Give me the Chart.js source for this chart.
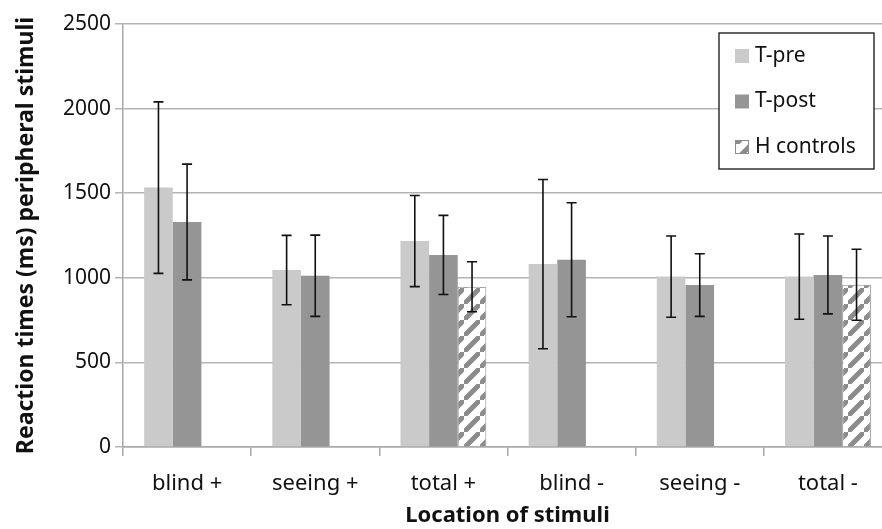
<!DOCTYPE html>
<html>
<head>
<meta charset="utf-8">
<script src="https://cdn.jsdelivr.net/npm/chart.js@4.4.0/dist/chart.umd.min.js"></script>
<style>
  html, body { margin: 0; padding: 0; background: #fff; overflow: hidden; }
  #wrap { width: 892px; height: 529px; }
</style>
</head>
<body>
<div id="wrap"><canvas id="rtChart" width="892" height="529"></canvas></div>
<script>
// data
var categories = ['blind +', 'seeing +', 'total +', 'blind -', 'seeing -', 'total -'];
var tPre      = [1533, 1046, 1217, 1081, 1007, 1007];
var tPost     = [1330, 1012, 1135, 1107,  957, 1017];
var hControls = [null, null,  947, null, null,  959];
var tPreErr      = [507, 205, 269, 500, 240, 252];
var tPostErr     = [342, 240, 234, 337, 185, 230];
var hControlsErr = [null, null, 148, null, null, 210];
var yTicks = [0, 500, 1000, 1500, 2000, 2500];

var fontFam = '"Noto Sans", sans-serif';

// diagonal stripe fill for the controls
function stripes() {
	var n = 16;
	var c = document.createElement('canvas');
	c.width = n; c.height = n;
	var g = c.getContext('2d');
	g.fillStyle = '#fff';
	g.fillRect(0, 0, n, n);
	g.strokeStyle = '#8c8c8c';
	g.lineWidth = 5;
	g.beginPath();
	g.moveTo(-2, n + 2); g.lineTo(n + 2, -2);
	g.moveTo(-n - 2, 2); g.lineTo(2, -n - 2);
	g.moveTo(n - 2, 2 * n + 2); g.lineTo(2 * n + 2, n - 2);
	g.stroke();
	return g.createPattern(c, 'repeat');
}

const ctx = document.getElementById('rtChart').getContext('2d');
const hatch = stripes();

const errorBars = {
	id: 'errorBars',
	afterDatasetsDraw: function(chart) {
		var c = chart.ctx;
		var y = chart.scales.y;
		c.save();
		c.strokeStyle = '#111';
		c.lineWidth = 1.6;
		chart.data.datasets.forEach(function(ds, i) {
			var meta = chart.getDatasetMeta(i);
			meta.data.forEach(function(bar, j) {
				var v = ds.data[j], e = ds.errors[j];
				if (v == null || e == null) return;
				var top = y.getPixelForValue(v + e);
				var bot = y.getPixelForValue(v - e);
				c.beginPath();
				c.moveTo(bar.x, top); c.lineTo(bar.x, bot);
				c.moveTo(bar.x - 5, top); c.lineTo(bar.x + 5, top);
				c.moveTo(bar.x - 5, bot); c.lineTo(bar.x + 5, bot);
				c.stroke();
			});
		});
		c.restore();
	}
};

const boxLegend = {
	id: 'boxLegend',
	afterDraw: function(chart) {
		var c = chart.ctx;
		c.save();
		c.strokeStyle = '#111';
		c.lineWidth = 1.3;
		c.fillStyle = '#fff';
		c.fillRect(719, 33, 155, 136);
		c.strokeRect(719, 33, 155, 136);
		c.font = '21px ' + fontFam;
		c.textBaseline = 'middle';
		chart.data.datasets.forEach(function(ds, i) {
			var cy = 56 + i * 45.5;
			c.fillStyle = ds.backgroundColor;
			c.fillRect(735, cy - 7, 14, 14);
			if (ds.borderWidth) {
				c.strokeStyle = '#8c8c8c';
				c.lineWidth = 1;
				c.strokeRect(735.5, cy - 6.5, 13, 13);
			}
			c.fillStyle = '#111';
			c.fillText(ds.label, 755, cy);
		});
		c.restore();
	}
};

const myChart = new Chart(ctx, {
	type: 'bar',
	data: {
		labels: categories,
		datasets: [
			{ label: 'T-pre', data: tPre, errors: tPreErr, backgroundColor: '#cacaca', borderWidth: 0 },
			{ label: 'T-post', data: tPost, errors: tPostErr, backgroundColor: '#959595', borderWidth: 0 },
			{ label: 'H controls', data: hControls, errors: hControlsErr, backgroundColor: hatch, borderColor: '#8c8c8c', borderWidth: 1 }
		]
	},
	options: {
		responsive: false,
		animation: false,
		layout: { padding: { top: 24, right: 0, left: 0, bottom: 0 } },
		datasets: { bar: { categoryPercentage: 0.67, barPercentage: 1, grouped: true, skipNull: false } },
		plugins: { legend: { display: false }, tooltip: { enabled: false } },
		scales: {
			x: {
				grid: { offset: true, drawOnChartArea: false, color: '#a8a8a8', lineWidth: 1.5, tickLength: 9 },
				border: { color: '#a8a8a8', width: 1.5 },
				ticks: { color: '#111', font: { family: fontFam, size: 22 }, padding: 15 },
				title: { display: true, text: 'Location of stimuli', color: '#111', font: { family: fontFam, size: 22, weight: 'bold' }, padding: { top: 0, bottom: 0 } },
				afterFit: function(s) { s.height = 82; }
			},
			y: {
				min: 0, max: 2500,
				afterBuildTicks: function(s) { s.ticks = yTicks.map(function(v) { return { value: v }; }); },
				grid: { color: '#b4b4b4', lineWidth: 1.5, tickLength: 8 },
				border: { color: '#a8a8a8', width: 1.5 },
				ticks: { color: '#111', font: { family: fontFam, size: 21 }, padding: 4, callback: function(v) { return String(v); } },
				title: { display: true, text: 'Reaction times (ms) peripheral stimuli', color: '#111', font: { family: fontFam, size: 23, weight: 'bold' }, padding: { top: 13, bottom: 0 } },
				afterFit: function(s) { s.width = 123; }
			}
		}
	},
	plugins: [errorBars, boxLegend]
});
</script>
</body>
</html>
